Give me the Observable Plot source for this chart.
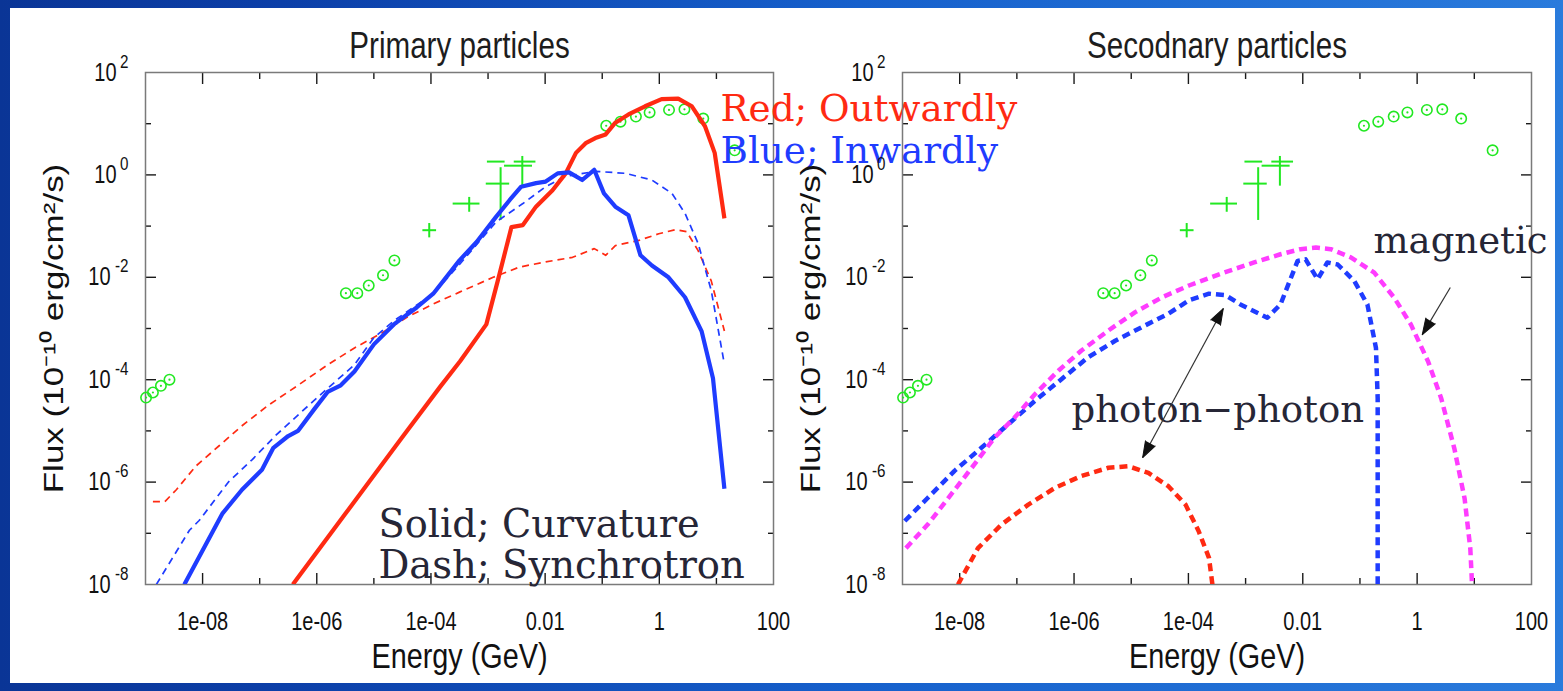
<!DOCTYPE html>
<html><head><meta charset="utf-8">
<script src="https://cdn.jsdelivr.net/npm/d3@7"></script>
<script src="https://cdn.jsdelivr.net/npm/@observablehq/plot@0.6"></script>
<style>
html,body{margin:0;padding:0;overflow:hidden;background:#0b3a9a;}
#slide{position:relative;width:1563px;height:691px;background:linear-gradient(to right,#0a3596 0%,#0c3fa8 18%,#1660cc 55%,#2a7bdc 100%);}
#paper{position:absolute;left:10px;top:8px;width:1545px;height:675px;background:#fff;}
.panel{position:absolute;left:0;top:0;}
</style></head><body>
<div id="slide"><div id="paper"></div><div id="left" class="panel"></div><div id="right" class="panel"></div></div>
<script>
// ---------- axis ticks ----------
const energyTicks = [1e-8, 1e-6, 1e-4, 1e-2, 1, 100];
const energyTickLabels = ["1e-08", "1e-06", "1e-04", "0.01", "1", "100"];
const energyMinor = [1e-7, 1e-5, 1e-3, 1e-1, 10];
const fluxExponents = [2, 0, -2, -4, -6, -8];
const fluxMinorExp = [1, -1, -3, -5, -7];

// ---------- data: [log10 Energy(GeV), log10 Flux] ----------
// Primary particles
const primCurvOut = [[-6.42,-8.0],[-5.5,-6.62],[-4.5,-5.12],[-3.84,-4.14],[-3.49,-3.64],[-3.03,-2.92],[-2.83,-2.07],[-2.59,-1.02],[-2.39,-0.98],[-2.16,-0.62],[-1.87,-0.30],[-1.64,0.03],[-1.46,0.43],[-1.29,0.62],[-1.12,0.72],[-0.94,0.79],[-0.77,1.02],[-0.54,1.18],[-0.25,1.34],[0.04,1.48],[0.33,1.49],[0.57,1.34],[0.80,0.95],[0.97,0.43],[1.14,-0.85]];
const primCurvIn = [[-8.32,-8.0],[-7.65,-6.61],[-7.31,-6.15],[-6.96,-5.76],[-6.76,-5.33],[-6.50,-5.10],[-6.33,-5.0],[-6.04,-4.57],[-5.81,-4.24],[-5.58,-4.11],[-5.34,-3.84],[-5.0,-3.31],[-4.65,-2.92],[-4.25,-2.59],[-3.96,-2.32],[-3.5,-1.67],[-3.20,-1.31],[-2.86,-0.82],[-2.62,-0.49],[-2.42,-0.23],[-2.16,-0.16],[-1.99,-0.13],[-1.78,0.03],[-1.58,0.05],[-1.35,-0.10],[-1.14,0.10],[-0.97,-0.36],[-0.77,-0.62],[-0.54,-0.79],[-0.33,-1.57],[-0.13,-1.77],[0.16,-2.0],[0.45,-2.39],[0.74,-3.05],[0.94,-3.97],[1.14,-6.13]];
const primSyncIn = [[-8.81,-8.0],[-8.23,-6.94],[-8.06,-6.75],[-7.65,-6.15],[-7.54,-5.99],[-7.13,-5.56],[-6.73,-5.10],[-6.27,-4.63],[-5.81,-4.17],[-5.34,-3.71],[-5.0,-3.18],[-4.65,-2.85],[-4.31,-2.59],[-3.96,-2.32],[-3.5,-1.75],[-2.86,-0.92],[-2.39,-0.56],[-1.99,-0.23],[-1.64,-0.03],[-1.12,0.07],[-0.59,0.03],[-0.13,-0.10],[0.22,-0.36],[0.45,-0.75],[0.68,-1.34],[0.91,-2.26],[1.14,-3.70]];
const primSyncOut = [[-8.87,-6.38],[-8.66,-6.38],[-8.46,-6.15],[-8.12,-5.69],[-7.71,-5.29],[-7.31,-4.90],[-6.85,-4.50],[-6.33,-4.11],[-5.81,-3.71],[-5.34,-3.38],[-4.88,-3.10],[-4.42,-2.78],[-3.96,-2.52],[-3.5,-2.29],[-2.91,-2.0],[-2.45,-1.80],[-1.99,-1.70],[-1.52,-1.61],[-1.14,-1.44],[-0.94,-1.57],[-0.77,-1.38],[-0.36,-1.28],[-0.01,-1.15],[0.28,-1.07],[0.48,-1.11],[0.68,-1.48],[0.91,-2.07],[1.14,-3.05]];
// Secondary particles
const secMagnetic = [[-8.94,-7.29],[-8.56,-6.83],[-8.15,-6.24],[-7.74,-5.65],[-7.39,-5.13],[-7.04,-4.74],[-6.68,-4.28],[-6.27,-3.82],[-5.87,-3.43],[-5.40,-3.04],[-4.93,-2.68],[-4.46,-2.39],[-3.99,-2.16],[-3.41,-1.92],[-2.85,-1.71],[-2.39,-1.55],[-2.04,-1.45],[-1.77,-1.42],[-1.51,-1.45],[-1.16,-1.61],[-0.75,-1.91],[-0.40,-2.40],[-0.11,-2.92],[0.19,-3.64],[0.42,-4.36],[0.65,-5.34],[0.83,-6.32],[0.93,-7.30],[0.96,-8.0]];
const secPhotonIn = [[-8.96,-6.76],[-8.56,-6.31],[-8.09,-5.78],[-7.62,-5.33],[-7.15,-4.87],[-6.68,-4.41],[-6.22,-3.99],[-5.75,-3.56],[-5.28,-3.24],[-4.81,-2.97],[-4.35,-2.71],[-3.99,-2.45],[-3.64,-2.32],[-3.35,-2.35],[-3.09,-2.53],[-2.62,-2.79],[-2.39,-2.53],[-2.09,-1.68],[-1.95,-1.65],[-1.74,-2.04],[-1.57,-1.71],[-1.39,-1.75],[-1.10,-2.07],[-0.87,-2.53],[-0.72,-3.38],[-0.69,-4.36],[-0.69,-8.0]];
const secPhotonOut = [[-8.03,-8.0],[-7.68,-7.29],[-7.27,-6.83],[-6.80,-6.44],[-6.33,-6.11],[-5.87,-5.88],[-5.40,-5.72],[-5.05,-5.69],[-4.70,-5.82],[-4.35,-6.08],[-4.05,-6.44],[-3.82,-6.96],[-3.64,-7.48],[-3.58,-8.0]];
// Observations (green), same in both panels
const obsCircles = [[-8.99,-4.35],[-8.87,-4.25],[-8.73,-4.12],[-8.58,-4.0],
  [-5.49,-2.31],[-5.29,-2.31],[-5.09,-2.16],[-4.84,-1.96],[-4.64,-1.67],
  [-0.93,0.96],[-0.68,1.04],[-0.41,1.14],[-0.17,1.22],[0.17,1.27],[0.44,1.28],[0.77,1.10],[1.32,0.48]];
const obsCrosses = [ // x, y, xlo, xhi, ylo, yhi (log10)
  [-4.03,-1.08,-4.15,-3.91,-1.22,-0.94],
  [-3.33,-0.56,-3.62,-3.15,-0.72,-0.43],
  [-2.78,-0.17,-3.04,-2.63,-0.88,0.15],
  [-2.40,0.18,-2.72,-2.23,-0.21,0.37]];
const obsBars = [[-3.02,-2.71,0.26],[-2.55,-2.17,0.26]]; // xlo, xhi, y
// annotation arrows: [x1, y1, x2, y2] log10, heads: [x, y, rotation°]
const photonArrow = [[-4.80,-5.52,-3.39,-2.61]];
const photonHeads = [[-3.39,-2.61,28.5],[-4.80,-5.52,208.5]];
const magneticArrow = [[0.58,-2.20,0.09,-3.12]];
const magneticHeads = [[0.09,-3.12,211]];

const RED = "#ff2a12", BLUE = "#1f3cff", MAGENTA = "#ff3cff", GREEN = "#22e822";
const W = 1563, H = 691, TOP = 72, BOTTOM = 584;
const p = v => 10 ** v;
const serif = "DejaVu Serif";

function panel({frameLeft, frameRight, title, series, extra}) {
  const tk = {fill: "none", stroke: "#1a1a1a", strokeWidth: 1.4, label: null};
  const xMaj = energyTicks.filter(v => v < 100);
  const yMaj = fluxExponents.filter(e => e < 2 && e > -8).map(p);
  const yMin = fluxMinorExp.map(p);
  const pos = fluxExponents.filter(e => e >= 0), neg = fluxExponents.filter(e => e < 0);
  const marks = [
    Plot.axisX(xMaj, {...tk, anchor: "bottom", tickSize: 11, dy: -11}),
    Plot.axisX(xMaj, {...tk, anchor: "top", tickSize: 11, dy: 11}),
    Plot.axisX(energyMinor, {...tk, anchor: "bottom", tickSize: 6, dy: -6}),
    Plot.axisX(energyMinor, {...tk, anchor: "top", tickSize: 6, dy: 6}),
    Plot.axisY(yMaj, {...tk, anchor: "left", tickSize: 11, dx: 11}),
    Plot.axisY(yMaj, {...tk, anchor: "right", tickSize: 11, dx: -11}),
    Plot.axisY(yMin, {...tk, anchor: "left", tickSize: 6, dx: 6}),
    Plot.axisY(yMin, {...tk, anchor: "right", tickSize: 6, dx: -6}),
    Plot.frame({stroke: "#7a7a7a", strokeWidth: 1.5}),
    Plot.text(energyTicks, {x: d => d, text: (d, i) => energyTickLabels[i], frameAnchor: "bottom", dy: 28, lineAnchor: "top", fontSize: 25, fill: "#111"}),
    Plot.text(pos, {y: p, text: () => "10", frameAnchor: "left", dx: -29, textAnchor: "end", fontSize: 25, fill: "#111"}),
    Plot.text(neg, {y: p, text: () => "10", frameAnchor: "left", dx: -35, textAnchor: "end", fontSize: 25, fill: "#111"}),
    Plot.text(fluxExponents, {y: p, text: e => String(e), frameAnchor: "left", dx: -17, dy: -11, textAnchor: "end", fontSize: 19, fill: "#111"}),
    Plot.text(["Energy (GeV)"], {frameAnchor: "bottom", dy: 83, lineAnchor: "bottom", fontSize: 36, fill: "#111"}),
    Plot.text(["Flux (10\u207B\u00B9\u2070 erg/cm\u00B2/s)"], {frameAnchor: "left", dx: -83, rotate: -90, textAnchor: "middle", lineAnchor: "bottom", fontSize: 35, fill: "#111"}),
    Plot.text([title], {frameAnchor: "top", dy: -15, lineAnchor: "bottom", fontSize: 37, fill: "#1d1d1d"}),
    // green observations
    Plot.link(obsBars, {x1: d => p(d[0]), x2: d => p(d[1]), y1: d => p(d[2]), y2: d => p(d[2]), stroke: GREEN, strokeWidth: 2}),
    Plot.link(obsCrosses, {x1: d => p(d[2]), x2: d => p(d[3]), y1: d => p(d[1]), y2: d => p(d[1]), stroke: GREEN, strokeWidth: 2}),
    Plot.link(obsCrosses, {x1: d => p(d[0]), x2: d => p(d[0]), y1: d => p(d[4]), y2: d => p(d[5]), stroke: GREEN, strokeWidth: 2}),
    Plot.dot(obsCircles, {x: d => p(d[0]), y: d => p(d[1]), r: 5.2, stroke: GREEN, strokeWidth: 1.6, fill: "none"}),
    Plot.dot(obsCircles, {x: d => p(d[0]), y: d => p(d[1]), r: 1.1, fill: GREEN, stroke: "none"}),
    ...series.map(s => Plot.line(s.data, {x: d => p(d[0]), y: d => p(d[1]), stroke: s.color, strokeWidth: s.width, strokeDasharray: s.dash, strokeLinecap: "butt", strokeLinejoin: "round", clip: true})),
    ...extra
  ];
  return Plot.plot({
    width: W, height: H,
    marginLeft: frameLeft, marginRight: W - frameRight, marginTop: TOP, marginBottom: H - BOTTOM,
    x: {type: "log", domain: [1e-9, 100], axis: null},
    y: {type: "log", domain: [1e-8, 100], axis: null},
    style: {background: "transparent", fontFamily: "'Liberation Sans', Arial, sans-serif", overflow: "visible"},
    marks
  });
}

function condense(svg) {
  svg.querySelectorAll("text").forEach(t => {
    if (t.closest('[font-family*="Serif"]')) return;
    const tr = t.getAttribute("transform") || "";
    const m = tr.match(/^translate\([^)]*\)/);
    if (m) t.setAttribute("transform", m[0] + " scale(0.8,1)" + tr.slice(m[0].length));
  });
  return svg;
}

const note = (txt, dx, dy, size, color) => Plot.text([txt], {frameAnchor: "top-left", dx, dy, textAnchor: "start", lineAnchor: "bottom", fontFamily: serif, fontSize: size, fill: color});

const left = panel({
  frameLeft: 145, frameRight: 773, title: "Primary particles",
  series: [
    {data: primSyncOut, color: RED, width: 1.7, dash: "7,5"},
    {data: primSyncIn, color: BLUE, width: 1.7, dash: "7,5"},
    {data: primCurvOut, color: RED, width: 4.2},
    {data: primCurvIn, color: BLUE, width: 4.2}
  ],
  extra: [
    note("Red; Outwardly", 575, 48, 37.3, RED),
    note("Blue; Inwardly", 575, 90, 37.3, BLUE),
    note("Solid; Curvature", 233, 464, 38.3, "#262636"),
    note("Dash; Synchrotron", 233, 505, 38.5, "#262636")
  ]
});

const right = panel({
  frameLeft: 902, frameRight: 1531, title: "Secodnary particles",
  series: [
    {data: secPhotonOut, color: RED, width: 4.5, dash: "8,5"},
    {data: secPhotonIn, color: BLUE, width: 4.5, dash: "8,5"},
    {data: secMagnetic, color: MAGENTA, width: 4.5, dash: "8,5"}
  ],
  extra: [
    note("magnetic", 471, 180, 37, "#262636"),
    note("photon\u2212photon", 169, 349, 37, "#262636"),
    Plot.link(photonArrow, {x1: d => p(d[0]), y1: d => p(d[1]), x2: d => p(d[2]), y2: d => p(d[3]), stroke: "#333", strokeWidth: 1.2}),
    Plot.link(magneticArrow, {x1: d => p(d[0]), y1: d => p(d[1]), x2: d => p(d[2]), y2: d => p(d[3]), stroke: "#333", strokeWidth: 1.2}),
    Plot.vector([...photonHeads, ...magneticHeads], {x: d => p(d[0]), y: d => p(d[1]), rotate: d => d[2], length: 16, r: 5.5, anchor: "end", shape: "spike", fill: "#111", stroke: "#111", strokeWidth: 1})
  ]
});

document.getElementById("left").appendChild(condense(left));
document.getElementById("right").appendChild(condense(right));
</script>
</body></html>
